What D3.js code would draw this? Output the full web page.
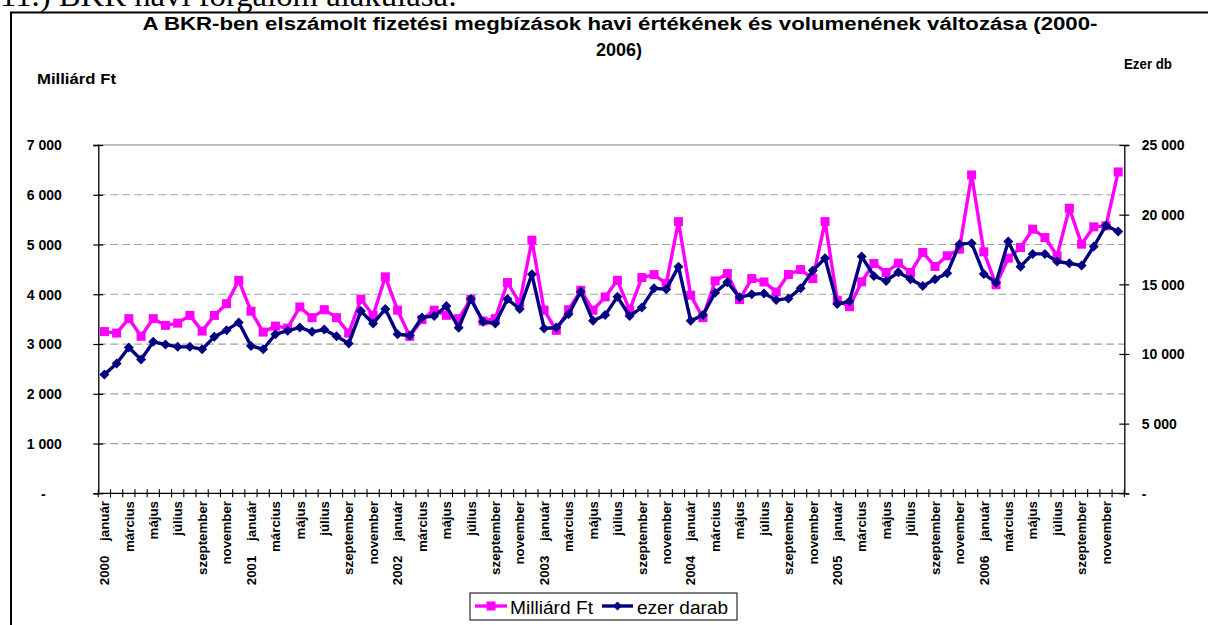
<!DOCTYPE html>
<html><head><meta charset="utf-8">
<script src="https://cdn.jsdelivr.net/npm/d3@7"></script>
<style>
body{margin:0;background:#fff;overflow:hidden}
svg{display:block}
text{font-family:Arial,"Liberation Sans",sans-serif}
</style>
</head><body>
<svg id="c" width="1208" height="625"></svg>
<script>
// ---- data ----
const years = ["2000","2001","2002","2003","2004","2005","2006"];
const months = ["január","február","március","április","május","június","július","augusztus","szeptember","október","november","december"];
const labelMonths = ["január","március","május","július","szeptember","november"];

const valueMrdFt = [
  3250,3220,3510,3155,3510,3375,3420,3575,3260,3575,3810,4280,
  3660,3240,3360,3320,3745,3530,3690,3530,3220,3900,3577,4350,
  3680,3155,3490,3680,3577,3510,3900,3463,3510,4235,3825,5087,
  3680,3275,3690,4080,3680,3946,4280,3680,4335,4395,4215,5460,
  3980,3530,4268,4416,3893,4315,4248,4047,4396,4497,4315,5460,
  3880,3750,4251,4619,4438,4625,4438,4840,4559,4773,4906,6398,
  4853,4190,4726,4940,5308,5140,4773,5729,5007,5355,5375,6458
];
const volumeEzerDb = [
  8520,9310,10460,9600,10870,10680,10510,10510,10340,11230,11710,12265,
  10580,10340,11420,11660,11905,11590,11760,11280,10750,13080,12190,13225,
  11420,11330,12625,12720,13440,11880,13940,12310,12190,13940,13225,15720,
  11830,11905,12860,14470,12380,12790,14110,12720,13340,14715,14640,16270,
  12380,12790,14400,15145,14065,14280,14350,13870,13990,14715,15985,16875,
  13585,13780,16995,15600,15240,15865,15360,14880,15360,15795,17885,17955,
  15745,15120,18075,16270,17185,17185,16635,16515,16345,17715,19225,18795
];
const leftTicks = [0,1000,2000,3000,4000,5000,6000,7000];
const rightTicks = [0,5000,10000,15000,20000,25000];
const seriesNames = ["Milliárd Ft","ezer darab"];
const titleLines = ["A BKR-ben elszámolt fizetési megbízások havi értékének és volumenének változása (2000-","2006)"];
const leftAxisTitle = "Milliárd Ft";
const rightAxisTitle = "Ezer db";
const pageHeading = "11.) BKR havi forgalom alakulása:";

// ---- build categories ----
const categories = [];
years.forEach(y => months.forEach((m, mi) => categories.push({year: y, month: m, first: mi === 0})));

// ---- layout ----
const svg = d3.select("#c");
const L = 98.3, R = 1124.3, T = 145, B = 493.3;
const MAG = "#FF00FF", NAVY = "#000080";

const x = d3.scaleBand().domain(d3.range(categories.length)).range([L, R]).padding(0);
const cx = i => x(i) + x.bandwidth() / 2;
const yL = d3.scaleLinear().domain([0, 7000]).range([B, T]);
const yR = d3.scaleLinear().domain([0, 25000]).range([B, T]);

const loc = d3.formatLocale({decimal: ",", thousands: " ", grouping: [3], currency: ["", ""]});
const fmt = loc.format(",");

// page heading (cut at top, as in the source page)
svg.append("text").attr("x", 0).attr("y", 6)
  .style("font-family", "'Liberation Serif','Times New Roman',serif")
  .attr("font-size", 32).attr("textLength", 457).attr("lengthAdjust", "spacingAndGlyphs")
  .text(pageHeading);

// chart frame
svg.append("rect").attr("x", 11).attr("y", 12.5).attr("width", 1300).attr("height", 700)
  .attr("fill", "none").attr("stroke", "#000").attr("stroke-width", 2);

// title
svg.append("text").attr("x", 620).attr("y", 30).attr("text-anchor", "middle")
  .attr("font-weight", "bold").attr("font-size", 18)
  .attr("textLength", 955).attr("lengthAdjust", "spacingAndGlyphs").text(titleLines[0]);
svg.append("text").attr("x", 619).attr("y", 56).attr("text-anchor", "middle")
  .attr("font-weight", "bold").attr("font-size", 18).text(titleLines[1]);

// axis titles
svg.append("text").attr("x", 37).attr("y", 84).attr("font-weight", "bold").attr("font-size", 14)
  .attr("textLength", 79).attr("lengthAdjust", "spacingAndGlyphs").text(leftAxisTitle);
svg.append("text").attr("x", 1124).attr("y", 69).attr("font-weight", "bold").attr("font-size", 14)
  .attr("textLength", 48).attr("lengthAdjust", "spacingAndGlyphs").text(rightAxisTitle);

// gridlines
const grid = svg.append("g");
grid.selectAll("line").data(leftTicks.filter(t => t > 0 && t < 7000)).join("line")
  .attr("x1", L).attr("x2", R).attr("y1", d => yL(d)).attr("y2", d => yL(d))
  .attr("stroke", "#a0a0a0").attr("stroke-width", 1.2).attr("stroke-dasharray", "8,4");
svg.append("line").attr("x1", L).attr("x2", R).attr("y1", yL(7000)).attr("y2", yL(7000))
  .attr("stroke", "#808080").attr("stroke-width", 1.2);

// left axis
const gL = svg.append("g").attr("transform", `translate(${L},0)`)
  .call(d3.axisLeft(yL).tickValues(leftTicks).tickSize(5).tickFormat(d => d === 0 ? "-" : fmt(d)));
gL.select(".domain").attr("stroke", "#000").attr("stroke-width", 1.3);
gL.selectAll(".tick line").attr("x1", 5).attr("x2", -5).attr("stroke", "#000").attr("stroke-width", 1.2);
gL.selectAll(".tick text").attr("x", -36.5).attr("font-size", 14).attr("font-weight", "bold")
  .attr("font-family", "Arial,'Liberation Sans',sans-serif").attr("fill", "#000").attr("dy", "0.35em");
gL.selectAll(".tick text").filter(d => d === 0).attr("x", -55).attr("text-anchor", "middle");

// right axis
const gR = svg.append("g").attr("transform", `translate(${R},0)`)
  .call(d3.axisRight(yR).tickValues(rightTicks).tickSize(5).tickFormat(d => d === 0 ? "-" : fmt(d)));
gR.select(".domain").attr("stroke", "#000").attr("stroke-width", 1.3);
gR.selectAll(".tick line").attr("x1", -5).attr("x2", 5).attr("stroke", "#000").attr("stroke-width", 1.2);
gR.selectAll(".tick text").attr("x", 17.5).attr("font-size", 14).attr("font-weight", "bold")
  .attr("font-family", "Arial,'Liberation Sans',sans-serif").attr("fill", "#000").attr("dy", "0.35em");

// bottom axis
svg.append("line").attr("x1", L).attr("x2", R).attr("y1", B).attr("y2", B).attr("stroke", "#000").attr("stroke-width", 1.3);
svg.append("g").selectAll("line").data(d3.range(categories.length + 1)).join("line")
  .attr("x1", i => L + i * x.step()).attr("x2", i => L + i * x.step())
  .attr("y1", B - 4).attr("y2", B + 4).attr("stroke", "#000").attr("stroke-width", 1.1);

// category labels
const labelled = categories.map((c, i) => ({...c, i})).filter(c => labelMonths.includes(c.month));
svg.append("g").selectAll("text").data(labelled).join("text")
  .attr("transform", d => `translate(${cx(d.i)},501) rotate(-90)`)
  .attr("text-anchor", "end").attr("dy", "0.36em")
  .attr("font-size", 13.3).attr("font-weight", "bold")
  .attr("xml:space", "preserve").style("white-space", "pre")
  .text(d => d.first ? d.year + "    " + d.month : d.month);

// series
const lineL = d3.line().x((d, i) => cx(i)).y(d => yL(d));
const lineR = d3.line().x((d, i) => cx(i)).y(d => yR(d));

svg.append("path").datum(valueMrdFt).attr("d", lineL).attr("fill", "none")
  .attr("stroke", MAG).attr("stroke-width", 3.4).attr("stroke-linejoin", "round");
svg.append("g").selectAll("rect").data(valueMrdFt).join("rect")
  .attr("x", (d, i) => cx(i) - 4.5).attr("y", d => yL(d) - 4.5)
  .attr("width", 9).attr("height", 9).attr("fill", MAG);

svg.append("path").datum(volumeEzerDb).attr("d", lineR).attr("fill", "none")
  .attr("stroke", NAVY).attr("stroke-width", 3.4).attr("stroke-linejoin", "round");
const diamond = (px, py, r) => `M${px},${py - r}L${px + r},${py}L${px},${py + r}L${px - r},${py}Z`;
svg.append("g").selectAll("path").data(volumeEzerDb).join("path")
  .attr("d", (d, i) => diamond(cx(i), yR(d), 5)).attr("fill", NAVY);

// legend
const lg = svg.append("g");
lg.append("rect").attr("x", 470).attr("y", 593).attr("width", 267).attr("height", 27)
  .attr("fill", "#fff").attr("stroke", "#000").attr("stroke-width", 1);
lg.append("line").attr("x1", 475).attr("x2", 507).attr("y1", 606).attr("y2", 606).attr("stroke", MAG).attr("stroke-width", 3.4);
lg.append("rect").attr("x", 491 - 4.5).attr("y", 606 - 4.5).attr("width", 9).attr("height", 9).attr("fill", MAG);
lg.append("text").attr("x", 510).attr("y", 614).attr("font-size", 18)
  .attr("textLength", 83).attr("lengthAdjust", "spacingAndGlyphs").text(seriesNames[0]);
lg.append("line").attr("x1", 602).attr("x2", 633).attr("y1", 606).attr("y2", 606).attr("stroke", NAVY).attr("stroke-width", 3.4);
lg.append("path").attr("d", diamond(617.5, 606, 4.5)).attr("fill", NAVY);
lg.append("text").attr("x", 637).attr("y", 614).attr("font-size", 18)
  .attr("textLength", 91).attr("lengthAdjust", "spacingAndGlyphs").text(seriesNames[1]);
</script>
</body></html>
